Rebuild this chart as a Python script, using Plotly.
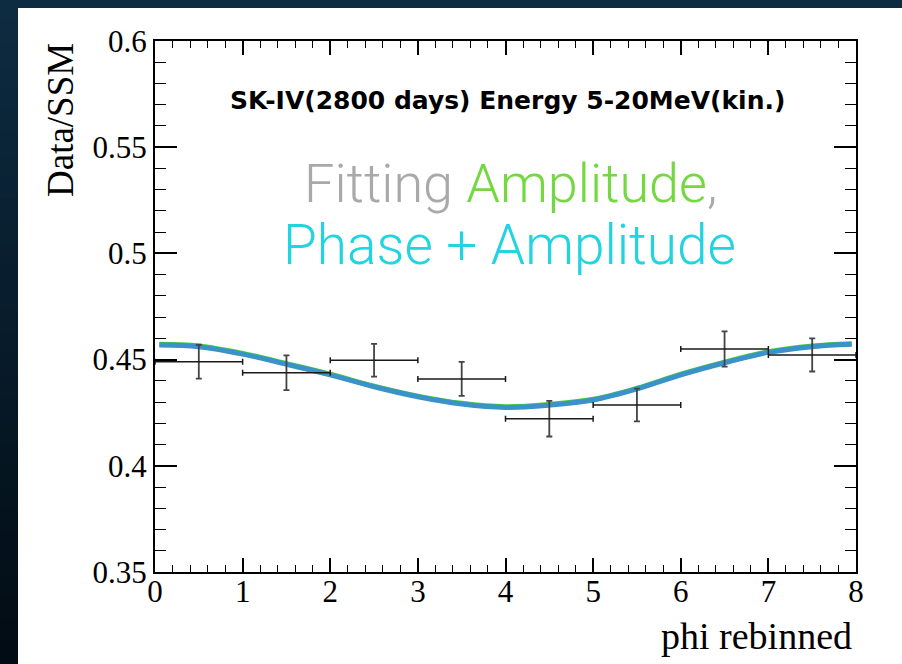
import plotly.graph_objects as go

# ---- data ----
bin_x = [0.5, 1.5, 2.5, 3.5, 4.5, 5.5, 6.5, 7.5]
bin_halfwidth = [0.5, 0.5, 0.5, 0.5, 0.5, 0.5, 0.5, 0.5]
ratio = [0.449, 0.4438, 0.4497, 0.4409, 0.4222, 0.4286, 0.4550, 0.4522]
ratio_err = [0.0080, 0.0082, 0.0077, 0.0080, 0.0084, 0.0077, 0.0083, 0.0078]

curve_x = [0.05, 0.5, 1.0, 1.5, 2.0, 2.5, 3.0, 3.5, 4.0, 4.5, 5.0, 5.5, 6.0, 6.5, 7.0, 7.5, 7.95]
fit_phase_amp = [0.4569, 0.4561, 0.4526, 0.4478, 0.4428, 0.4372, 0.4325, 0.4291, 0.4275,
                 0.4286, 0.4310, 0.4362, 0.4428, 0.4485, 0.4534, 0.4561, 0.4572]
fit_amp = [0.4572, 0.4564, 0.4529, 0.4481, 0.4431, 0.4375, 0.4328, 0.4294, 0.4278,
           0.4289, 0.4313, 0.4365, 0.4431, 0.4488, 0.4537, 0.4564, 0.4575]

x_ticks = [0, 1, 2, 3, 4, 5, 6, 7, 8]
y_ticks = [0.35, 0.4, 0.45, 0.5, 0.55, 0.6]
y_tick_text = ["0.35", "0.4", "0.45", "0.5", "0.55", "0.6"]

# ---- figure geometry (pixels) ----
W, H = 902, 664
L, R, T, B = 155, 46, 41, 92
PW, PH = W - L - R, H - T - B


def px_x(px):
    return (px - L) / PW


def px_y(py):
    return (H - B - py) / PH


fig = go.Figure()

fig.add_trace(go.Scatter(
    x=curve_x, y=fit_amp, mode="lines", line=dict(color="#3fd13a", width=5, shape="spline"),
    showlegend=False, hoverinfo="skip"))
fig.add_trace(go.Scatter(
    x=curve_x, y=fit_phase_amp, mode="lines", line=dict(color="#3b92c8", width=5, shape="spline"),
    showlegend=False, hoverinfo="skip"))
fig.add_trace(go.Scatter(
    x=bin_x, y=ratio, mode="markers", marker=dict(size=1, color="#222"),
    error_x=dict(type="data", array=bin_halfwidth, color="#1a1a1a", thickness=1.5, width=3),
    error_y=dict(type="data", array=ratio_err, color="#444", thickness=1.8, width=3),
    showlegend=False))

# background: dark vertical gradient + white panel
shapes = []
n = 30
top = (13, 43, 65)
bot = (2, 12, 20)
for i in range(n):
    f = i / (n - 1)
    c = tuple(int(round(top[k] + (bot[k] - top[k]) * f)) for k in range(3))
    ytop = i * H / n
    ybot = (i + 1) * H / n + 1
    shapes.append(dict(type="rect", xref="paper", yref="paper", layer="below",
                       x0=px_x(-2), x1=px_x(W + 2), y0=px_y(ybot), y1=px_y(ytop),
                       line=dict(width=0), fillcolor="rgb(%d,%d,%d)" % c))
shapes.append(dict(type="rect", xref="paper", yref="paper", layer="below",
                   x0=px_x(18), x1=px_x(W + 2), y0=px_y(H + 2), y1=px_y(8),
                   line=dict(width=0), fillcolor="white"))

serif = "Liberation Serif, Times New Roman, serif"
light = "Roboto, Liberation Sans, sans-serif"

annotations = [
    dict(text="SK-IV(2800 days) Energy 5-20MeV(kin.)", x=px_x(507), y=px_y(100),
         xref="paper", yref="paper", showarrow=False, xanchor="center", yanchor="middle",
         font=dict(family="DejaVu Sans, sans-serif", size=25, color="black", weight="bold")),
    dict(text="<span style='color:#a9a9a9'>Fitting </span><span style='color:#74d840'>Amplitude</span><span style='color:#a9a9a9'>,</span>",
         x=px_x(510), y=px_y(183), xref="paper", yref="paper", showarrow=False,
         xanchor="center", yanchor="middle",
         font=dict(family=light, size=54, weight=300)),
    dict(text="Phase + Amplitude", x=px_x(509), y=px_y(245), xref="paper", yref="paper",
         showarrow=False, xanchor="center", yanchor="middle",
         font=dict(family=light, size=55, color="#22d4e0", weight=300)),
    dict(text="Data/SSM", x=px_x(60), y=px_y(120), xref="paper", yref="paper", showarrow=False,
         textangle=-90, xanchor="center", yanchor="middle",
         font=dict(family=serif, size=37, color="black")),
    dict(text="phi rebinned", x=px_x(854), y=px_y(636), xref="paper", yref="paper", showarrow=False,
         xanchor="right", yanchor="middle",
         font=dict(family=serif, size=38, color="black")),
]

fig.update_layout(
    width=W, height=H,
    margin=dict(l=L, r=R, t=T, b=B, pad=0),
    paper_bgcolor="#071a28",
    plot_bgcolor="white",
    shapes=shapes,
    annotations=annotations,
    showlegend=False,
)

fig.update_xaxes(
    range=[0, 8], tickvals=x_ticks, ticks="inside", ticklen=14, tickwidth=1.5, tickcolor="black",
    showline=True, linecolor="black", linewidth=2, mirror="allticks", showgrid=False, zeroline=False,
    tickfont=dict(family=serif, size=31, color="black"), ticklabelstandoff=-9,
    minor=dict(ticks="inside", dtick=0.2, ticklen=7, tickwidth=1.2, tickcolor="black", showgrid=False),
)
fig.update_yaxes(
    range=[0.35, 0.6], tickvals=y_ticks, ticktext=y_tick_text, ticks="inside", ticklen=22,
    tickwidth=1.5, tickcolor="black",
    showline=True, linecolor="black", linewidth=2, mirror="allticks", showgrid=False, zeroline=False,
    tickfont=dict(family=serif, size=31, color="black"),
    minor=dict(ticks="inside", dtick=0.01, ticklen=11, tickwidth=1.2, tickcolor="black", showgrid=False),
)

fig.write_html("out.html")
